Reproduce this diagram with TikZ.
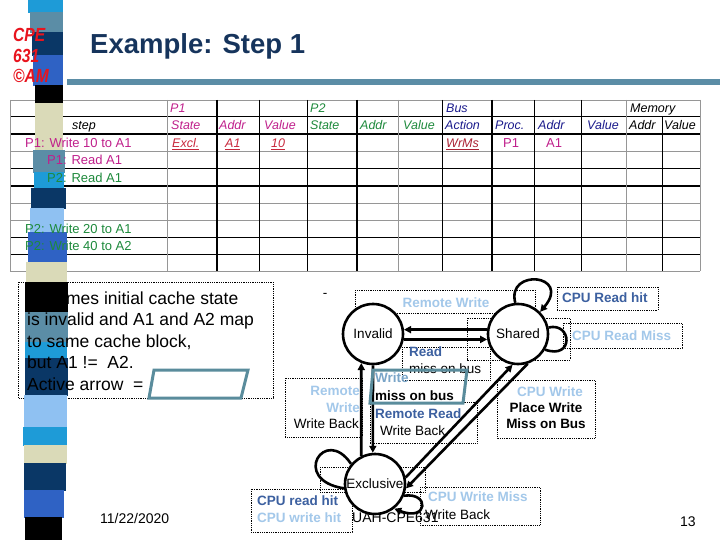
\documentclass[tikz,border=0pt]{standalone}
\usepackage{fontspec}
\setmainfont{Liberation Sans}
\usetikzlibrary{arrows.meta}
\definecolor{titlenavy}{RGB}{22,52,92}
\definecolor{scyan}{RGB}{30,155,215}
\definecolor{ssteel}{RGB}{91,141,166}
\definecolor{snavy}{RGB}{10,55,102}
\definecolor{sroyal}{RGB}{47,98,196}
\definecolor{sbeige}{RGB}{218,218,184}
\definecolor{slight}{RGB}{143,193,242}
\definecolor{logored}{RGB}{232,20,30}
\definecolor{pone}{RGB}{192,32,140}
\definecolor{ptwo}{RGB}{30,138,60}
\definecolor{buscol}{RGB}{26,26,140}
\definecolor{ulred}{RGB}{200,40,60}
\definecolor{ltblue}{RGB}{163,200,234}
\definecolor{midblue}{RGB}{60,96,160}
\definecolor{activec}{RGB}{90,140,156}
\definecolor{actwrite}{RGB}{122,165,200}
\definecolor{gridgray}{RGB}{150,150,150}
\begin{document}
\begin{tikzpicture}[x=1pt,y=-1pt,
  lbl/.style={draw, densely dotted, line width=0.8pt},
  bt/.style={font=\fontsize{13.5}{15}\selectfont\bfseries, inner sep=0pt, text height=9.7pt, text depth=0pt},
  nt/.style={font=\fontsize{13.5}{15}\selectfont, inner sep=0pt, text height=9.7pt, text depth=0pt},
  hd/.style={font=\fontsize{12.5}{14}\selectfont\itshape, inner sep=0pt, text height=9pt, text depth=0pt, anchor=west},
  stp/.style={font=\fontsize{13}{15}\selectfont, inner sep=0pt, text height=9.3pt, text depth=0pt, anchor=west},
  bx/.style={font=\fontsize{17.5}{20}\selectfont, inner sep=0pt, text height=12.5pt, text depth=0pt, anchor=west},
  ft/.style={font=\fontsize{14}{16}\selectfont, inner sep=0pt, text height=10pt, text depth=0pt, anchor=west},
  logo/.style={anchor=base west, inner sep=0pt, font=\fontsize{19}{21}\selectfont\bfseries\itshape, text=logored},
  state/.style={circle, draw, line width=2.6pt, fill=white, minimum size=60pt, inner sep=0pt, font=\fontsize{13.5}{15}\selectfont},
  conn/.style={line width=2.6pt, -{Triangle[length=7pt,width=7pt]}},
  loopline/.style={line width=2.6pt},
  gl/.style={draw=gridgray, line width=0.8pt},
  bl/.style={draw=black, line width=1pt},
  bbl/.style={draw=black, line width=1.6pt},
  act/.style={draw=activec, line width=3pt, line join=miter},
]
\useasboundingbox (0,0) rectangle (720,540);
\fill[white] (0,0) rectangle (720,540);

% footer
\node[ft] (date) at (100,518) {11/22/2020};
\node[ft] (uah) at (352,517) {UAH-CPE631};
\node[ft] (pg) at (680,521) {13};

% table grid
\foreach \yy/\sty in {100/gl,117/bl,134/bbl,151.7/gl,169/bl,186/bbl,203/gl,220.7/gl,237/bl,254/bl,271/gl}
  \draw[\sty] (10,\yy) -- (700,\yy);
\foreach \xx/\sty in {10/gl,167/gl,217/bbl,259/bl,307/bl,357/bbl,398/gl,442/bl,492/bbl,534/bl,581/bl,626/gl,700/gl}
  \draw[\sty] (\xx,100) -- (\xx,271);
\draw[bl] (662,117) -- (662,271);

% left text box border
\draw[lbl] (18,282) rectangle (273,398);

% decorative strip
\foreach \ya/\yb/\xa/\xb/\cc in {0/12/28/63/scyan,12/32/30/63/ssteel,32/55/32/63/snavy,55/85/33/63/sroyal,85/103/35/63/black,103/150/35/63/sbeige,150/172/33/65/ssteel,172/188/34/64/scyan,188/208/31/66/snavy,208/232/30/64/slight,232/262/28/67/sroyal,262/282/26/67/sbeige,282/312/25/68/black,312/342/25/68/ssteel,342/358/25/67/scyan,358/395/25/68/snavy,395/427/24/67/slight,427/445/23/67/scyan,445/463/24/67/sbeige,463/490/24/66/snavy,490/517/24/64/sroyal,517/540/25/62/black}
  \fill[\cc] (\xa,\ya) rectangle (\xb,\yb+0.6);

% title
\fill[ssteel] (67,79) rectangle (720,85);
\node[anchor=base west, inner sep=0pt, font=\fontsize{27.5}{30}\selectfont\bfseries, text=titlenavy] (title) at (90,54) {Example: Step 1};
\node[logo] (lg1) at (13,42) {\scalebox{0.82}[1]{CPE}};
\node[logo] (lg2) at (13,63) {\scalebox{0.82}[1]{631}};
\node[logo] (lg3) at (13,83) {\scalebox{0.82}[1]{©AM}};

% table header
\node[hd, text=pone] (hP1) at (170,108.5) {P1};
\node[hd, text=ptwo] (hP2) at (310,108.5) {P2};
\node[hd, text=buscol] (hBus) at (446,108.5) {Bus};
\node[hd] (hMem) at (630,108.5) {Memory};
\node[hd] (hstep) at (72,125.5) {step};
\node[hd, text=pone] (h1s) at (171,125.5) {State};
\node[hd, text=pone] (h1a) at (219,125.5) {Addr};
\node[hd, text=pone] (h1v) at (264,125.5) {Value};
\node[hd, text=ptwo] (h2s) at (310,125.5) {State};
\node[hd, text=ptwo] (h2a) at (360,125.5) {Addr};
\node[hd, text=ptwo] (h2v) at (403,125.5) {Value};
\node[hd, text=buscol] (hba) at (445,125.5) {Action};
\node[hd, text=buscol] (hbp) at (495,125.5) {Proc.};
\node[hd, text=buscol] (hbd) at (538,125.5) {Addr};
\node[hd, text=buscol] (hbv) at (587,125.5) {Value};
\node[hd] (hma) at (629,125.5) {Addr};
\node[hd] (hmv) at (664,125.5) {Value};

% table rows
\node[stp, text=pone] (r1) at (25,143) {P1: Write 10 to A1};
\node[stp, text=pone] (r2) at (47,160) {P1: Read A1};
\node[stp, text=ptwo] (r3) at (47,177.5) {P2: Read A1};
\node[stp, text=ptwo] (r4) at (25,229) {P2: Write 20 to A1};
\node[stp, text=ptwo] (r5) at (25,245.5) {P2: Write 40 to A2};
\node[hd, text=ulred] (c1) at (172,143) {\underline{Excl.}};
\node[hd, text=ulred] (c2) at (225,143) {\underline{A1}};
\node[hd, text=ulred] (c3) at (271,143) {\underline{10}};
\node[hd, text=ulred!85!black] (c4) at (446,143) {\underline{WrMs}};
\node[stp, text=pone] (c5) at (503,143) {P1};
\node[stp, text=pone] (c6) at (546,143) {A1};

% left text box
\node[bx] (b1) at (27,298) {Assumes initial cache state};
\node[bx] (b2) at (27,319) {is invalid and A1 and A2 map};
\node[bx] (b3) at (27,341) {to same cache block,};
\node[bx] (b4) at (27,362) {but A1 !=\ \ A2.};
\node[bx] (b5) at (27,384) {Active arrow\ \ =};
\draw[act] (154,370) -- (248,370) -- (241,398) -- (149,398) -- cycle;

% dotted label boxes
\draw[lbl] (355,290) rectangle (535,313);
\draw[lbl] (557,287) rectangle (658,310);
\draw[lbl] (467,318) rectangle (570,360);
\draw[lbl] (563,323) rectangle (682,348);
\draw[lbl] (402,347) rectangle (490,380);
\draw[lbl] (285,378) rectangle (362,437);
\draw[lbl] (370,402) rectangle (477,443);
\draw[lbl] (497,380) rectangle (595,438);
\draw[lbl] (320,467) rectangle (425,492);
\draw[lbl] (251,489) rectangle (352,532);
\draw[lbl] (420,487) rectangle (540,525);

% label texts
\node[nt] (dash) at (325,293) {-};
\node[bt, text=ltblue] (lrw) at (446,303) {Remote Write};
\node[bt, text=midblue, anchor=west] (lcrh) at (562,298) {CPU Read hit};
\node[bt, text=ltblue, anchor=west] (lcrm) at (572,336) {CPU Read Miss};
\node[bt, text=midblue, anchor=west] (lrd) at (409,352) {Read};
\node[nt, anchor=west] (lmob) at (409,369) {miss on bus};
\node[bt, text=ltblue, anchor=east] (lrem) at (360,391) {Remote};
\node[bt, text=ltblue, anchor=east] (lremw) at (360,408) {Write};
\node[nt, anchor=east] (lremwb) at (359,424) {Write Back};
\node[bt, text=midblue, anchor=west] (lrr) at (375,414) {Remote Read};
\node[nt, anchor=west] (lrrwb) at (380,431) {Write Back};
\node[bt, text=ltblue] (lcw) at (550,392) {CPU Write};
\node[bt] (lpw) at (546,408) {Place Write};
\node[bt] (lmb) at (546,424) {Miss on Bus};
\node[bt, text=midblue, anchor=west] (lcr) at (257,501) {CPU read hit};
\node[bt, text=ltblue, anchor=west] (lcwh) at (257,518) {CPU write hit};
\node[bt, text=ltblue, anchor=west] (lcwm) at (428,497) {CPU Write Miss};
\node[nt, anchor=west] (lcwmwb) at (425,515) {Write Back};

% states
\node[state] (inv) at (373,334) {Invalid};
\node[state] (sh) at (518,334) {Shared};
\node[state] (exc) at (375,484) {Exclusive};

% transitions
\draw[conn] (sh.172) -- (inv.8);
\draw[conn] (inv.-10) -- (sh.190);
\draw[conn] (exc.116) -- (inv.248);
\draw[conn] (inv.270) -- (exc.94);
\draw[conn] (exc.12) -- (sh.260);
\draw[conn] (sh.288) -- (exc.-8);
\draw[conn] (sh.95) .. controls (506,268) and (572,274) .. (sh.45);
\draw[loopline] (sh.12) .. controls (572,322) and (574,360) .. (sh.-30);
\draw[loopline] (exc.140) .. controls (325,425) and (290,480) .. (exc.188);
\draw[conn] (exc.-22) .. controls (430,492) and (428,522) .. (exc.-52);

% active arrow label in diagram
\draw[act] (373,370) -- (467,370) -- (463,403) -- (370,403) -- cycle;
\node[bt, text=actwrite, anchor=west] (lw) at (375,378) {Write};
\node[bt, anchor=west] (lwm) at (375,396) {miss on bus};
\end{tikzpicture}
\end{document}
